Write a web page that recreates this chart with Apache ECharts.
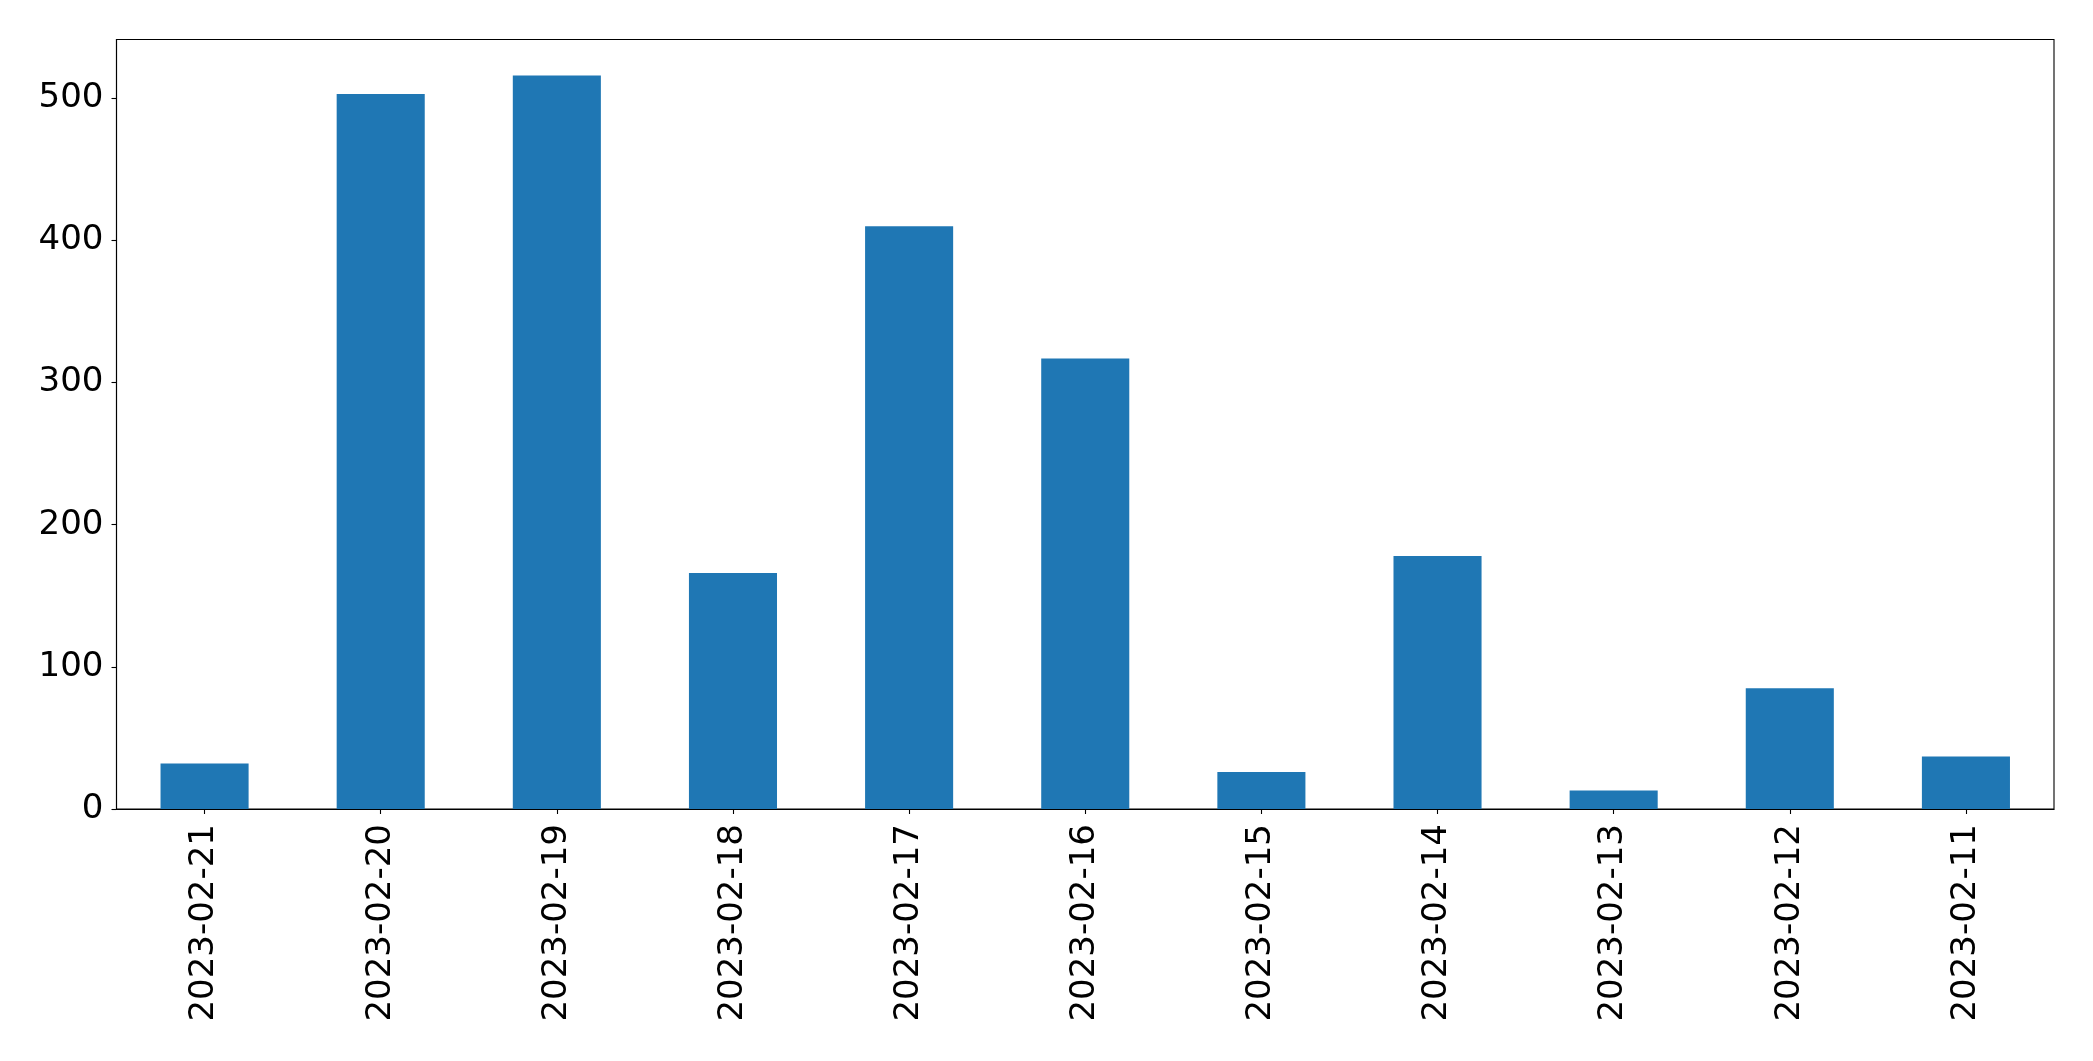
<!DOCTYPE html>
<html>
<head>
<meta charset="utf-8">
<script src="https://cdn.jsdelivr.net/npm/echarts@6/dist/echarts.min.js"></script>
<style>
  html, body { margin: 0; padding: 0; background: #ffffff; }
  #chart { width: 2093px; height: 1061px; }
</style>
</head>
<body>
<div id="chart"></div>
<script>
const categories = ["2023-02-21", "2023-02-20", "2023-02-19", "2023-02-18", "2023-02-17", "2023-02-16", "2023-02-15", "2023-02-14", "2023-02-13", "2023-02-12", "2023-02-11"];
const values = [32, 503, 516, 166, 410, 317, 26, 178, 13, 85, 37];
const yMin = 0;
const yMax = 541.4;
const yInterval = 100;

const chart = echarts.init(document.getElementById('chart'), null, { renderer: 'canvas' });
const font = 'DejaVu Sans';
chart.setOption({
  animation: false,
  backgroundColor: '#ffffff',
  grid: {
    left: 116.5, right: 39, top: 39.5, bottom: 252,
    show: true, borderColor: '#000000', borderWidth: 1.1, backgroundColor: 'transparent'
  },
  xAxis: {
    type: 'category',
    data: categories,
    axisLine: { show: true, lineStyle: { color: '#000000', width: 1.1 } },
    axisTick: { show: true, alignWithLabel: true, length: 5, lineStyle: { color: '#000000', width: 1.1 } },
    axisLabel: { rotate: 90, interval: 0, margin: 15, color: '#000000', fontFamily: font, fontSize: 34 },
    splitLine: { show: false }
  },
  yAxis: {
    type: 'value',
    min: yMin, max: yMax, interval: yInterval,
    axisLine: { show: true, lineStyle: { color: '#000000', width: 1.1 } },
    axisTick: { show: true, length: 5, lineStyle: { color: '#000000', width: 1.1 } },
    axisLabel: { showMaxLabel: false, margin: 13, color: '#000000', fontFamily: font, fontSize: 34 },
    splitLine: { show: false }
  },
  series: [{
    type: 'bar',
    data: values,
    barWidth: '50%',
    itemStyle: { color: '#1f77b4' }
  }]
});
</script>
</body>
</html>
